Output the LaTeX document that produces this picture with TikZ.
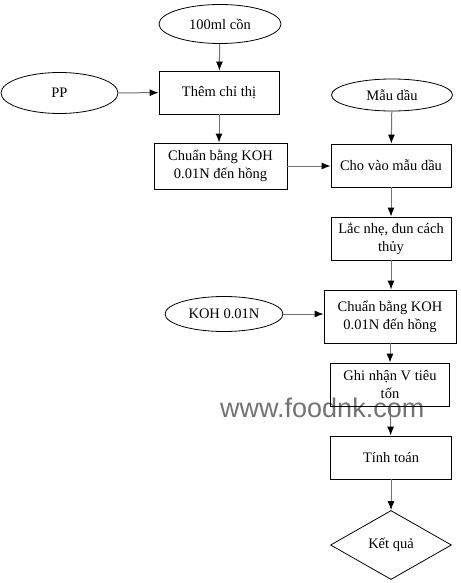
\documentclass[tikz,border=0pt]{standalone}
\usepackage{fontspec}
\setmainfont{Liberation Serif}
\newfontfamily\wmfont{Liberation Sans}
\usetikzlibrary{shapes.geometric,arrows.meta}
\begin{document}
\begin{tikzpicture}[x=1pt,y=-1pt,
  every node/.style={font=\fontsize{14.5}{18}\selectfont, align=center, inner sep=0pt},
  box/.style={draw=black, line width=0.8pt, rectangle},
  oval/.style={draw=black, line width=0.8pt, ellipse},
  dia/.style={draw=black, line width=0.8pt, diamond},
  conn/.style={draw=black!55, line width=1pt, -{Latex[length=9pt,width=7pt,fill=black,color=black]}}
]
\useasboundingbox (0,0) rectangle (460,583);
% watermark
\node[anchor=base west, font=\wmfont\fontsize{27}{27}\selectfont, text=black!55] (wm) at (220,417) {www.foodnk.com};

\node[oval, minimum width=122pt, minimum height=39pt] (c100) at (220,24) {100ml cồn};
\node[box, minimum width=120pt, minimum height=43pt] (them) at (219,92.5) {Thêm chỉ thị};
\node[box, minimum width=133pt, minimum height=46pt] (chuan1) at (220.5,166) {Chuẩn bằng KOH\\0.01N đến hồng};
\node[oval, minimum width=117pt, minimum height=41pt] (pp) at (59.5,93) {PP};
\node[oval, minimum width=121pt, minimum height=32pt] (mau) at (392,95) {Mẫu dầu};
\node[box, minimum width=120pt, minimum height=43pt] (chovao) at (391,165.5) {Cho vào mẫu dầu};
\node[box, minimum width=120pt, minimum height=43pt] (lac) at (391,238.5) {Lắc nhẹ, đun cách\\thủy};
\node[oval, minimum width=118pt, minimum height=35pt] (koh) at (224,314) {KOH 0.01N};
\node[box, minimum width=132pt, minimum height=53pt] (chuan2) at (390,316.5) {Chuẩn bằng KOH\\0.01N đến hồng};
\node[box, minimum width=119pt, minimum height=43pt] (ghi) at (390,384.5) {Ghi nhận V tiêu\\tốn};
\node[box, minimum width=121pt, minimum height=43pt] (tinh) at (391,457.5) {Tính toán};
\node[dia, minimum width=121pt, minimum height=69pt, aspect=1.75] (ket) at (391,545) {Kết quả};

\draw[conn] (c100) -- (them);
\draw[conn] (pp) -- (them);
\draw[conn] (them) -- (chuan1.north -| them);
\draw[conn] (chuan1.east) -- (chuan1.east -| chovao.west);
\draw[conn] (mau) -- (chovao);
\draw[conn] (chovao) -- (lac);
\draw[conn] (lac) -- (chuan2.north -| lac);
\draw[conn] (koh.east) -- (koh.east -| chuan2.west);
\draw[conn] (chuan2) -- (ghi);
\draw[conn] (ghi) -- (tinh);
\draw[conn] (tinh) -- (ket);
\end{tikzpicture}
\end{document}
